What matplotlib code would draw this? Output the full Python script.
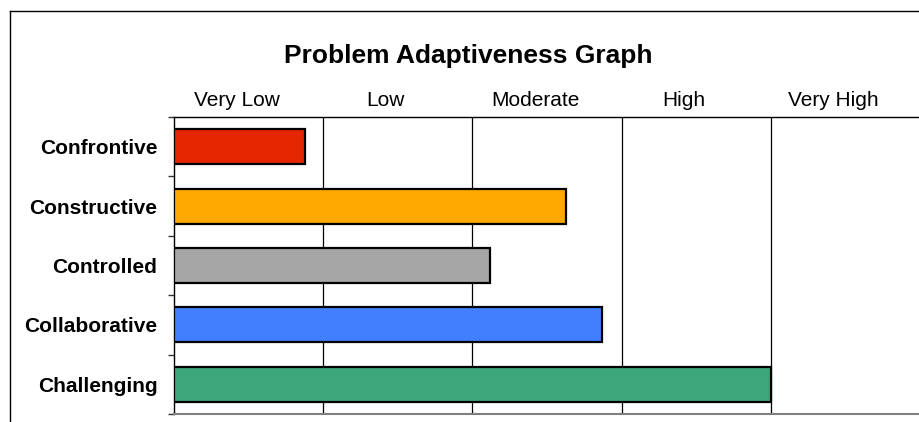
import matplotlib.pyplot as plt
from matplotlib.lines import Line2D
from matplotlib.transforms import blended_transform_factory

plt.rcParams['font.family'] = ['Liberation Sans', 'DejaVu Sans']

# strategies, top to bottom, and their adaptiveness score (0..5 scale)
strategies = ['Confrontive', 'Constructive', 'Controlled', 'Collaborative', 'Challenging']
scores = [0.88, 2.63, 2.12, 2.87, 4.0]
bar_colors = ['#E62600', '#FFA800', '#A6A6A6', '#427FFF', '#3DA67A']
levels = ['Very Low', 'Low', 'Moderate', 'High', 'Very High']

W, H = 919, 422
fig = plt.figure(figsize=(W / 100, H / 100), dpi=100)

# outer chart frame (only left and top edges fall inside the image)
fig.add_artist(Line2D([10 / W, 10 / W], [0, 1 - 11 / H], color='black', lw=1.0))
fig.add_artist(Line2D([10 / W, 1], [1 - 11 / H, 1 - 11 / H], color='black', lw=1.0))

left, right, top, bottom = 174, 920, 117, 414
ax = fig.add_axes([left / W, 1 - bottom / H, (right - left) / W, (bottom - top) / H])

ypos = [i + 0.5 for i in range(len(strategies))]
ax.barh(ypos, scores, height=0.59, color=bar_colors, edgecolor='black',
        linewidth=1.6, zorder=3)

ax.set_xlim(0, len(levels))
ax.set_ylim(len(strategies), 0)

for x in range(1, len(levels)):
    ax.axvline(x, color='black', lw=0.9, zorder=1)

# level names above the plot
trans = blended_transform_factory(ax.transData, ax.transAxes)
for i, name in enumerate(levels):
    ax.text(i + 0.42, 1 + 11 / (bottom - top), name, transform=trans,
            ha='center', va='baseline', fontsize=15)

ax.set_xticks([])
ax.set_yticks(ypos)
ax.set_yticklabels(strategies, fontsize=15, fontweight='bold')
ax.tick_params(axis='y', which='major', length=0, pad=12)
ax.set_yticks(range(len(strategies) + 1), minor=True)
ax.tick_params(axis='y', which='minor', length=4.5, width=1, color='#333333')

for side in ['left', 'top']:
    ax.spines[side].set_color('black')
    ax.spines[side].set_linewidth(1.0)
ax.spines['bottom'].set_color('#808080')
ax.spines['bottom'].set_linewidth(1.5)
ax.spines['right'].set_visible(False)

fig.text(468 / W, 1 - 63 / H, 'Problem Adaptiveness Graph', ha='center',
         va='baseline', fontsize=19, fontweight='bold')

fig.savefig('out.png', dpi=100)
